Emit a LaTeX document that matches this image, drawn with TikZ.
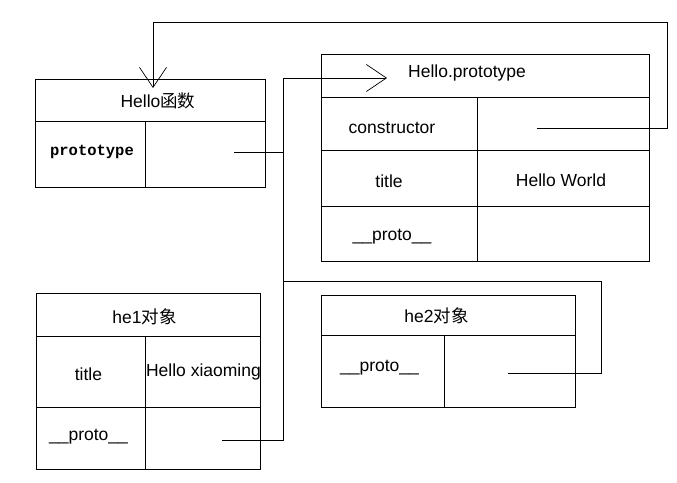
\documentclass[tikz,border=0pt]{standalone}
\usepackage{fontspec}
\setmainfont{Liberation Sans}
\newfontfamily\cjk{Noto Sans CJK SC}
\newfontfamily\monob{Liberation Mono}
\usetikzlibrary{arrows.meta}

\tikzset{
  cell/.style 2 args={draw, rectangle, inner sep=0pt, minimum width=#1pt, minimum height=#2pt},
  txt/.style={inner sep=0pt, font=\fontsize{17.5}{20}\selectfont},
  link/.style={draw, line width=1pt},
  pointer/.style={link, -{Straight Barb[length=20pt, width=27pt, line width=0.7pt]}}
}

\begin{document}
\begin{tikzpicture}[x=1pt, y=-1pt, line width=1pt]

        \useasboundingbox (0,0) rectangle (677,482);

        % boxes
        \begin{scope}[every node/.style={}]
          \node[cell={230}{42}]  (hf)   at (150,100)   {};
          \node[cell={110}{66}]  (hfa)  at (90,154)    {};
          \node[cell={120}{66}]  (hfb)  at (205,154)   {};

          \node[cell={328}{43}]  (hp)   at (485,75.5)  {};
          \node[cell={156}{53}]  (hpa)  at (399,123.5) {};
          \node[cell={172}{53}]  (hpb)  at (563,123.5) {};
          \node[cell={156}{56}]  (hpc)  at (399,178)   {};
          \node[cell={172}{56}]  (hpd)  at (563,178)   {};
          \node[cell={156}{55}]  (hpe)  at (399,233.5) {};
          \node[cell={172}{55}]  (hpf)  at (563,233.5) {};

          \node[cell={224}{43}]  (ha)   at (148,314.5) {};
          \node[cell={109}{71}]  (haa)  at (90.5,371.5) {};
          \node[cell={115}{71}]  (hab)  at (202.5,371.5) {};
          \node[cell={109}{62}]  (hac)  at (90.5,438)  {};
          \node[cell={115}{62}]  (had)  at (202.5,438) {};

          \node[cell={254}{40}]  (hb)   at (448,315)   {};
          \node[cell={123}{72}]  (hba)  at (382.5,371) {};
          \node[cell={131}{72}]  (hbb)  at (509.5,371) {};
        \end{scope}

        % texts
        \begin{scope}[every node/.style={txt}]
          \node (tHf)    at (158,101)   {Hello{\cjk 函数}};
          \node[font=\monob\bfseries\fontsize{15.5}{18}\selectfont] (tHfp) at (92,152) {prototype};
          \node (tHp)    at (467,73)    {Hello.prototype};
          \node (tCtor)  at (392,128)   {constructor};
          \node (tTitle) at (389,181)   {title};
          \node (tWorld) at (561,180)   {Hello World};
          \node (tHpp)   at (392,237)   {\_\_proto\_\_};
          \node (tHa)    at (144.5,317) {he1{\cjk 对象}};
          \node (tHaT)   at (88.5,374)  {title};
          \node (tHaV)   at (203.5,372) {Hello xiaoming};
          \node (tHap)   at (88.5,437)  {\_\_proto\_\_};
          \node (tHb)    at (436.5,316) {he2{\cjk 对象}};
          \node (tHbp)   at (379.5,368) {\_\_proto\_\_};
        \end{scope}

        % pointers
        \coordinate (hfp)   at (234,152);
        \coordinate (ctor)  at (537,128);
        \coordinate (he1p)  at (222,440);
        \coordinate (he2p)  at (508,373);
        \coordinate (bus)   at (283,78);
        \coordinate (turn1) at (667,22);
        \coordinate (turn2) at (601,281);
        \coordinate (hftip) at (153,88);
        \coordinate (hptip) at (387,78);

        \path[pointer] (ctor) -| (turn1) -| (hftip);
        \path[pointer] (he1p) -| (bus) -- (hptip);
        \path[link] (hfp) -- (hfp -| bus);
        \path[link] (he2p) -| (turn2) -- (turn2 -| bus);

      \end{tikzpicture}
\end{document}
